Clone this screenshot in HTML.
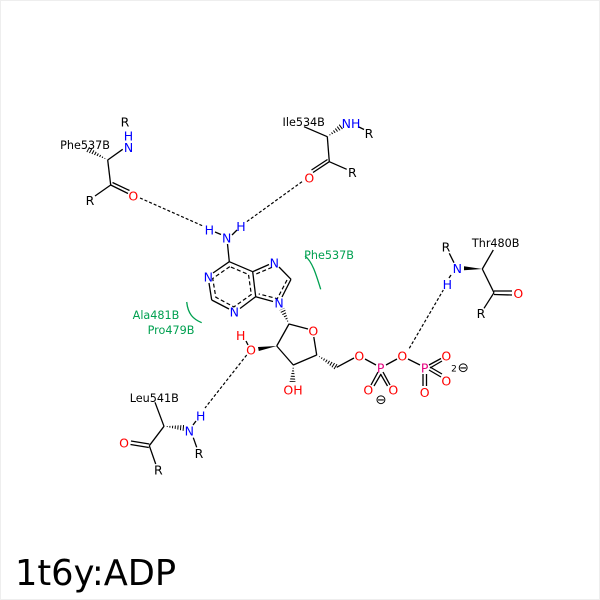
<!DOCTYPE html>
<html><head><meta charset="utf-8"><style>
html,body{margin:0;padding:0;background:#fff}
svg{display:block}
text{font-family:"DejaVu Sans",sans-serif;text-anchor:middle}
.a{font-size:12.5px}.r{font-size:11.2px}
.N{fill:#0000ff}.O{fill:#ff0000}.P{fill:#e5007e}.G{fill:#00a050;font-size:11.2px}
.b line,.b path{stroke:#000;stroke-width:1.3;fill:none}
.d line{stroke:#000;stroke-width:1.2;stroke-dasharray:3 2}
.ad path{stroke:#000;stroke-width:1.2;fill:none;stroke-dasharray:4 2.5}
.g{stroke:#00a050;stroke-width:1.3;fill:none}
.m line{stroke:#fff;stroke-width:14;stroke-dasharray:1 1.7}
</style></head><body>
<svg width="600" height="600" viewBox="0 0 600 600" xmlns="http://www.w3.org/2000/svg">
<rect x="0.5" y="0.5" width="599" height="599" fill="#fff" stroke="#eeeeee"/>
<defs>
<mask id="h1" maskUnits="userSpaceOnUse" x="0" y="0" width="600" height="600"><g class="m"><line x1="107.7" y1="160" x2="87" y2="149"/></g></mask>
<mask id="h2" maskUnits="userSpaceOnUse" x="0" y="0" width="600" height="600"><g class="m"><line x1="327.3" y1="136.7" x2="342" y2="126"/></g></mask>
<mask id="h3" maskUnits="userSpaceOnUse" x="0" y="0" width="600" height="600"><g class="m"><line x1="164" y1="426.3" x2="184" y2="428"/></g></mask>
<mask id="h4" maskUnits="userSpaceOnUse" x="0" y="0" width="600" height="600"><g class="m"><line x1="289" y1="324" x2="282" y2="309"/></g></mask>
<mask id="h5" maskUnits="userSpaceOnUse" x="0" y="0" width="600" height="600"><g class="m"><line x1="293.3" y1="365" x2="292.5" y2="382"/></g></mask>
<mask id="h6" maskUnits="userSpaceOnUse" x="0" y="0" width="600" height="600"><g class="m"><line x1="316.7" y1="355" x2="336.7" y2="367.3"/></g></mask>
</defs>

<!-- hashed wedges -->
<polygon mask="url(#h1)" points="107.7,160 88.4,146.4 85.6,151.6"/>
<polygon mask="url(#h2)" points="327.3,136.7 343.8,128.4 340.2,123.6"/>
<polygon mask="url(#h3)" points="164,426.3 183.8,431 184.2,425"/>
<polygon mask="url(#h4)" points="289,324 284.7,307.7 279.3,310.3"/>
<polygon mask="url(#h5)" points="293.3,365 295.5,382 289.5,382"/>
<polygon mask="url(#h6)" points="316.7,355 335.1,369.9 338.3,364.7"/>
<!-- solid wedges -->
<polygon points="482.3,269 464,266.3 464,270.3"/>
<polygon points="276.7,346 258,347 258.8,351"/>

<g class="b">
<!-- Phe537B -->
<line x1="107.7" y1="160" x2="122.7" y2="149.3"/>
<line x1="107.7" y1="160" x2="110.7" y2="185"/>
<line x1="110.7" y1="185" x2="95" y2="196"/>
<line x1="110.7" y1="185" x2="128" y2="193.5"/>
<line x1="112.5" y1="182.5" x2="129.5" y2="190.5"/>
<!-- Ile534B -->
<line x1="304" y1="126.7" x2="327.3" y2="136.7"/>
<line x1="327.3" y1="136.7" x2="329.3" y2="161.7"/>
<line x1="329.3" y1="161.7" x2="346.7" y2="169.3"/>
<line x1="329.3" y1="161.7" x2="313" y2="172.5"/>
<line x1="327.5" y1="159.5" x2="311.5" y2="170"/>
<line x1="359" y1="127" x2="364" y2="129.5"/>
<!-- Adenine -->
<line x1="229.3" y1="261.7" x2="213" y2="273"/>
<line x1="209" y1="283" x2="211.7" y2="300"/>
<line x1="211.7" y1="300" x2="229" y2="309"/>
<line x1="240" y1="308.5" x2="255.7" y2="296.7"/>
<line x1="255.7" y1="296.7" x2="252.7" y2="271.7"/>
<line x1="252.7" y1="271.7" x2="229.3" y2="261.7"/>
<line x1="252.7" y1="271.7" x2="269" y2="264.5"/>
<line x1="279" y1="267" x2="291" y2="279.3"/>
<line x1="291" y1="279.3" x2="282" y2="297"/>
<line x1="273" y1="301.5" x2="255.7" y2="296.7"/>
<line x1="229.3" y1="261.7" x2="227.5" y2="244"/>
<line x1="221" y1="234.5" x2="215" y2="232"/>
<line x1="232" y1="235" x2="237" y2="230"/>
<!-- Ribose -->
<line x1="289" y1="324" x2="308" y2="329"/>
<line x1="313.8" y1="337" x2="316.7" y2="355"/>
<line x1="316.7" y1="355" x2="293.3" y2="365"/>
<line x1="293.3" y1="365" x2="276.7" y2="346"/>
<line x1="276.7" y1="346" x2="289" y2="324"/>
<line x1="246" y1="341" x2="248" y2="345"/>
<line x1="336.7" y1="367.3" x2="354" y2="358"/>
<!-- Phosphates -->
<line x1="365" y1="359" x2="376" y2="365"/>
<line x1="386" y1="365" x2="397" y2="359"/>
<line x1="408" y1="359" x2="420" y2="365"/>
<line x1="378" y1="372" x2="371" y2="385"/>
<line x1="381" y1="374" x2="374" y2="386"/>
<line x1="383" y1="372" x2="390" y2="385"/>
<line x1="380.5" y1="374" x2="387.5" y2="386"/>
<line x1="429" y1="365" x2="441" y2="358.5"/>
<line x1="430" y1="368" x2="442" y2="361"/>
<line x1="429" y1="370" x2="441" y2="377"/>
<line x1="430" y1="367" x2="442" y2="374"/>
<line x1="423" y1="374" x2="423" y2="386"/>
<line x1="426.5" y1="374" x2="426.5" y2="386"/>
<!-- Thr480B -->
<line x1="449.3" y1="253.3" x2="454" y2="262.7"/>
<line x1="451" y1="275" x2="449" y2="278"/>
<line x1="482.3" y1="269" x2="493.3" y2="250"/>
<line x1="482.3" y1="269" x2="494" y2="292.7"/>
<line x1="494" y1="292.7" x2="484" y2="308.3"/>
<line x1="494" y1="291" x2="512" y2="291"/>
<line x1="494" y1="294.5" x2="512" y2="295"/>
<!-- Leu541B -->
<line x1="155" y1="402.3" x2="164" y2="426.3"/>
<line x1="164" y1="426.3" x2="149.3" y2="445.7"/>
<line x1="149.3" y1="445.7" x2="155.7" y2="464"/>
<line x1="149.3" y1="444" x2="131" y2="441"/>
<line x1="148.8" y1="447.5" x2="130.5" y2="444.5"/>
<line x1="193.3" y1="437.7" x2="196.7" y2="447.3"/>
<line x1="193" y1="425" x2="196" y2="421"/>
</g>

<!-- aromatic dashes -->
<g class="ad">
<path d="M229.8 266.6L212.7 278.5L215.8 297.2L233.9 306.9L251.3 294.5L248.5 274.5Z"/>
<path d="M256.3 273.9L273.5 266.7M287 280L277.3 298.7L258.7 293.9"/>
</g>

<!-- hydrogen bonds -->
<g class="d">
<line x1="140" y1="198" x2="203" y2="226"/>
<line x1="302" y1="181.7" x2="246.7" y2="221.7"/>
<line x1="246.7" y1="355" x2="205" y2="408"/>
<line x1="409.3" y1="348.3" x2="443.3" y2="290"/>
</g>

<!-- hydrophobic arcs -->
<path class="g" d="M305 256C312 261 316 274 320.7 289.3"/>
<path class="g" d="M186.7 302C188 314 193 319 201.7 322.7"/>

<!-- labels -->
<text class="a" x="125" y="126.5">R</text>
<text class="a N" x="128.5" y="140.5">H</text>
<text class="a N" x="128.5" y="152">N</text>
<text class="r" x="85" y="149">Phe537B</text>
<text class="a" x="90" y="205">R</text>
<text class="a O" x="133.3" y="200.5">O</text>

<text class="r" x="303.7" y="126">Ile534B</text>
<text class="a N" x="351" y="128">NH</text>
<text class="a" x="369" y="138">R</text>
<text class="a" x="352.3" y="177">R</text>
<text class="a O" x="309.3" y="182.5">O</text>

<text class="a N" x="209.3" y="234.5">H</text>
<text class="a N" x="226.7" y="242.5">N</text>
<text class="a N" x="241" y="231">H</text>
<text class="a N" x="208.3" y="281.5">N</text>
<text class="a N" x="234.3" y="316.5">N</text>
<text class="a N" x="274.3" y="267.5">N</text>
<text class="a N" x="279" y="307.5">N</text>

<text class="a O" x="313.3" y="335.5">O</text>
<text class="a O" x="240.7" y="340">H</text>
<text class="a O" x="251" y="354.5">O</text>
<text class="a O" x="293" y="394.5">OH</text>

<text class="a O" x="359.3" y="360.5">O</text>
<text class="a P" x="380.7" y="372.5">P</text>
<text class="a O" x="402.3" y="360.5">O</text>
<text class="a P" x="424.7" y="372.5">P</text>
<text class="a O" x="446.3" y="360.5">O</text>
<text class="a O" x="446.3" y="385.5">O</text>
<text class="a O" x="424.7" y="397">O</text>
<text class="a O" x="368.3" y="394.5">O</text>
<text class="a O" x="393.3" y="394.5">O</text>
<text class="a" x="381" y="404" style="font-size:13.5px">⊖</text>
<text x="454" y="371.5" style="font-size:9px">2</text>
<text class="a" x="463.3" y="372" style="font-size:13.5px">⊖</text>

<text class="a" x="446" y="251.5">R</text>
<text class="a N" x="457.3" y="273">N</text>
<text class="a N" x="447.3" y="289">H</text>
<text class="r" x="495.7" y="247">Thr480B</text>
<text class="a O" x="518.3" y="298">O</text>
<text class="a" x="481" y="318">R</text>

<text class="r" x="154.3" y="402">Leu541B</text>
<text class="a N" x="189.3" y="435.5">N</text>
<text class="a N" x="200.7" y="420.5">H</text>
<text class="a" x="199" y="458">R</text>
<text class="a O" x="124" y="447.5">O</text>
<text class="a" x="158.3" y="474.5">R</text>

<text class="G" x="329" y="259">Phe537B</text>
<text class="G" x="156" y="319">Ala481B</text>
<text class="G" x="171" y="334">Pro479B</text>

<text x="15" y="585" style="font-size:35.2px;text-anchor:start">1t6y:ADP</text>
</svg>
</body></html>
